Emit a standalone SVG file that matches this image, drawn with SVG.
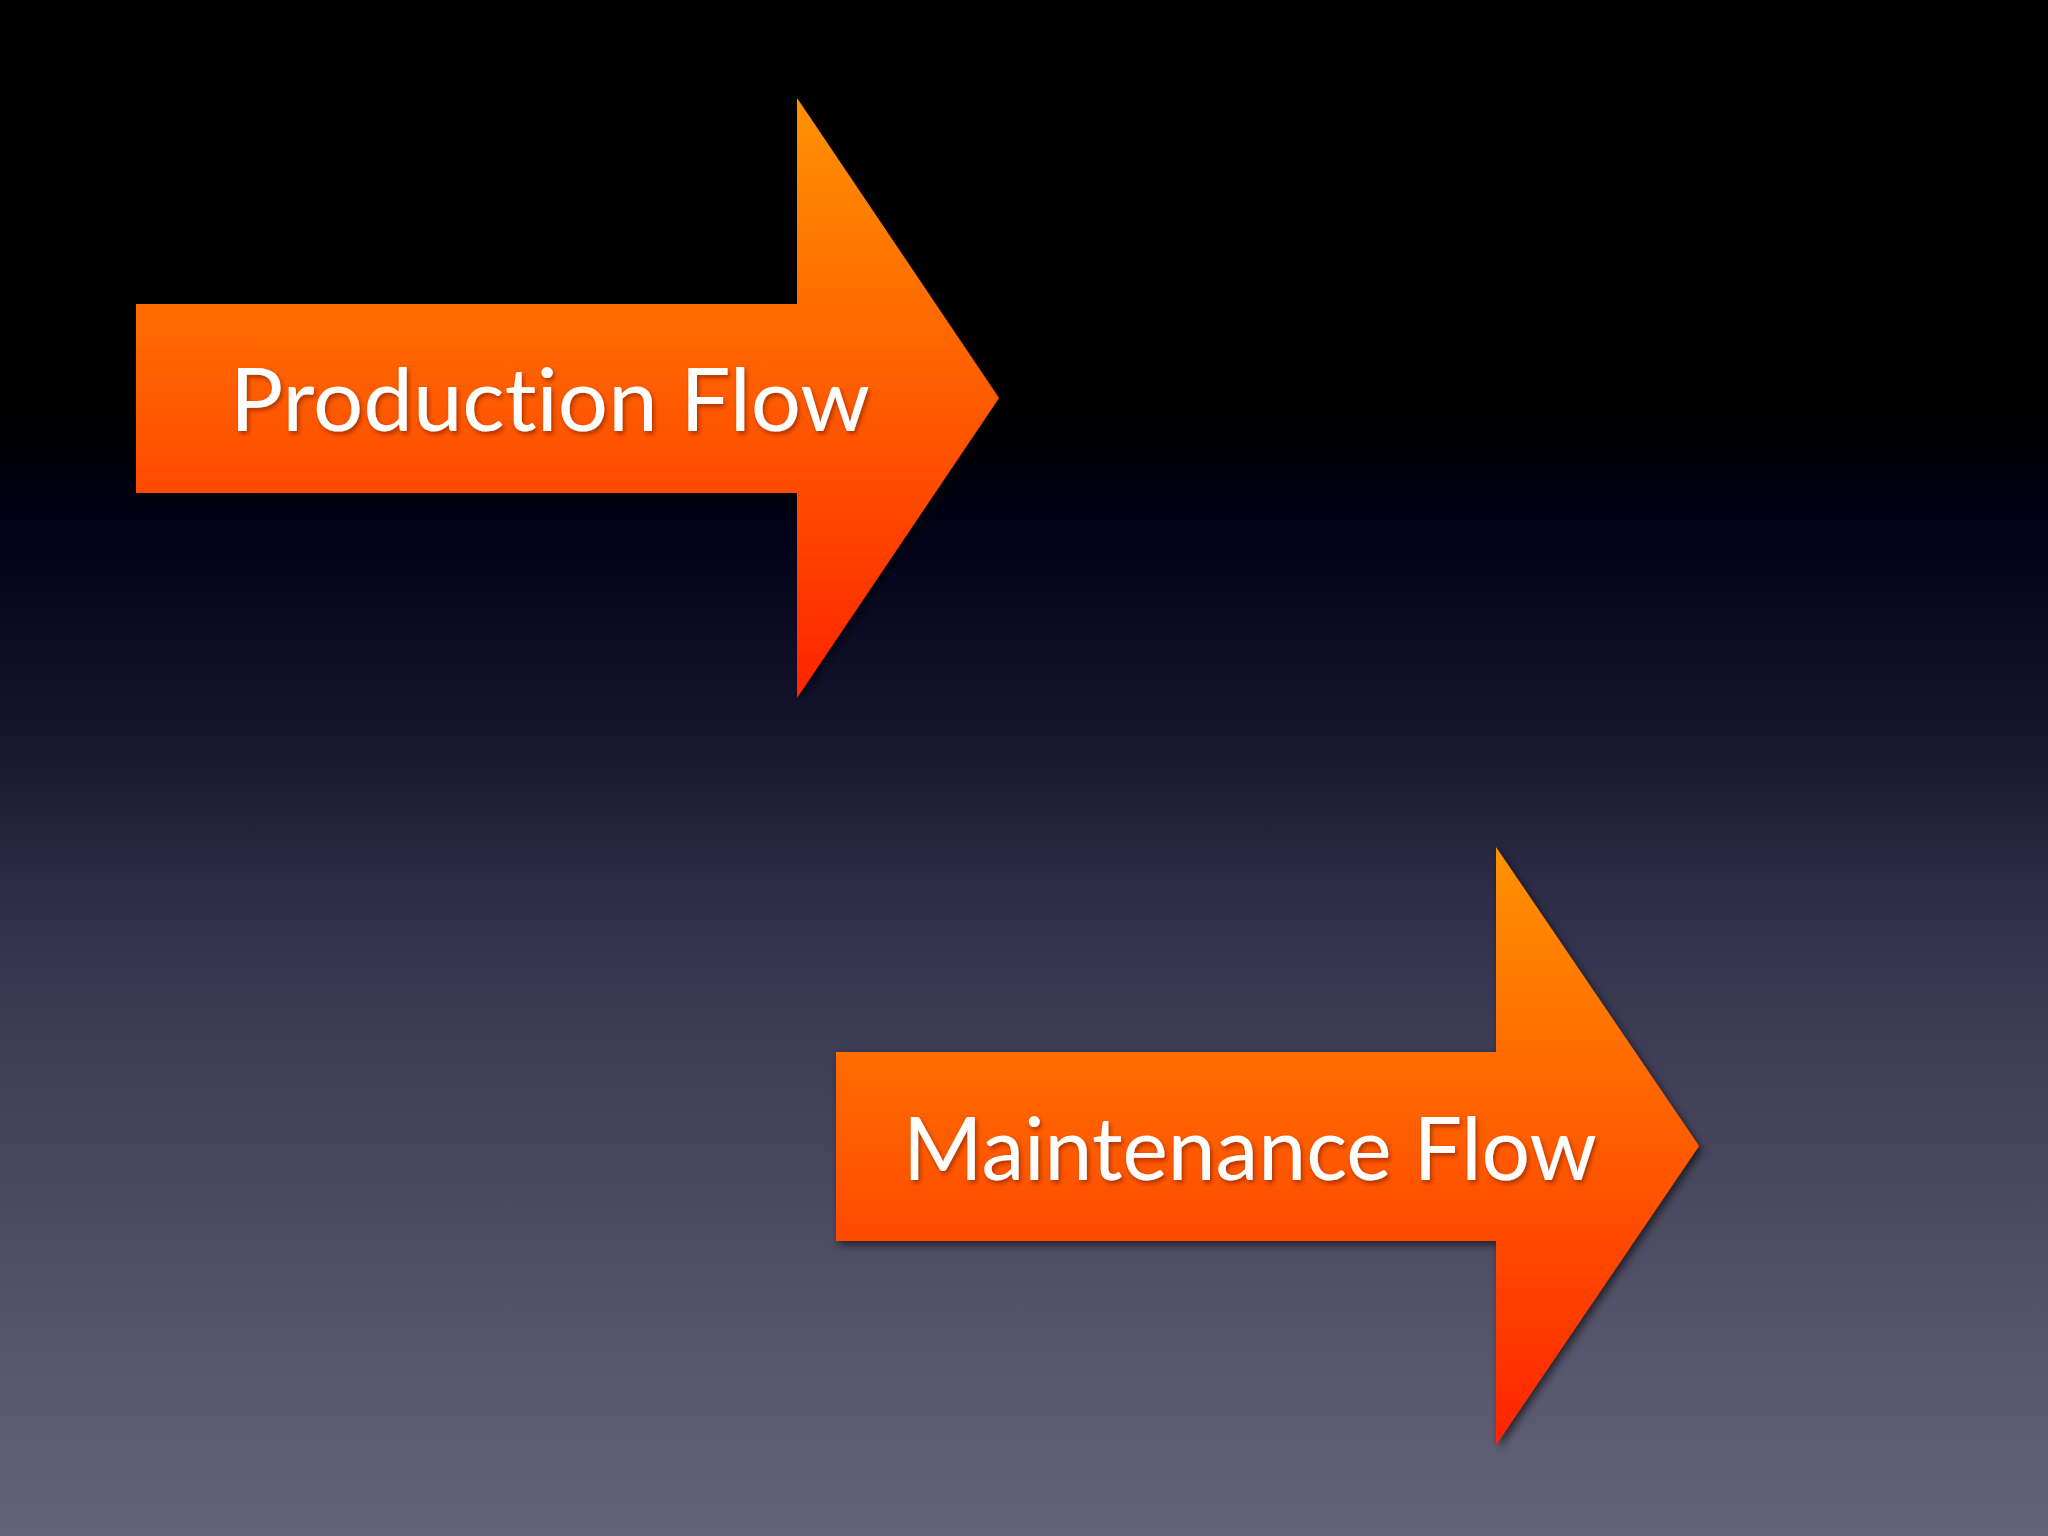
<svg xmlns="http://www.w3.org/2000/svg" width="2048" height="1536" viewBox="0 0 2048 1536">
<defs>
<linearGradient id="bg" x1="0" y1="0" x2="0" y2="1">
<stop offset="0" stop-color="#000000"/>
<stop offset="0.27" stop-color="#000000"/>
<stop offset="0.35" stop-color="#02021a"/>
<stop offset="0.46" stop-color="#12122c"/>
<stop offset="0.62" stop-color="#363450"/>
<stop offset="0.8" stop-color="#4e4c62"/>
<stop offset="1" stop-color="#65637a"/>
</linearGradient>
<linearGradient id="og" x1="0" y1="0" x2="0" y2="1">
<stop offset="0" stop-color="#ff9200"/>
<stop offset="0.45" stop-color="#ff6100"/>
<stop offset="1" stop-color="#ff2400"/>
</linearGradient>
<filter id="sh" x="-10%" y="-10%" width="120%" height="120%">
<feDropShadow dx="3" dy="4" stdDeviation="4" flood-color="#000" flood-opacity="0.6"/>
</filter>
<filter id="tsh" x="-5%" y="-20%" width="110%" height="140%">
<feDropShadow dx="2" dy="3" stdDeviation="2" flood-color="#7a1a00" flood-opacity="0.6"/>
</filter>
</defs>
<style>
.arrow{fill:url(#og);filter:url(#sh);}
.lbl{font-family:"Lato","Open Sans","Liberation Sans",sans-serif;font-size:88px;fill:#ffffff;filter:url(#tsh);font-variant-ligatures:none;font-feature-settings:"liga" 0,"clig" 0;}
</style>
<rect width="2048" height="1536" fill="url(#bg)"/>
<g id="production-flow">
<path class="arrow" d="M136,304 L797,304 L797,98 L999,398 L797,698 L797,493 L136,493 Z"/>
<text class="lbl" x="230" y="431" textLength="640" lengthAdjust="spacingAndGlyphs">Production Flow</text>
</g>
<g id="maintenance-flow">
<path class="arrow" d="M836,1052 L1496,1052 L1496,847 L1699,1146 L1496,1445 L1496,1241 L836,1241 Z"/>
<text class="lbl" x="903" y="1180" textLength="694" lengthAdjust="spacingAndGlyphs">Maintenance Flow</text>
</g>
<g id="connectors"/>
</svg>
